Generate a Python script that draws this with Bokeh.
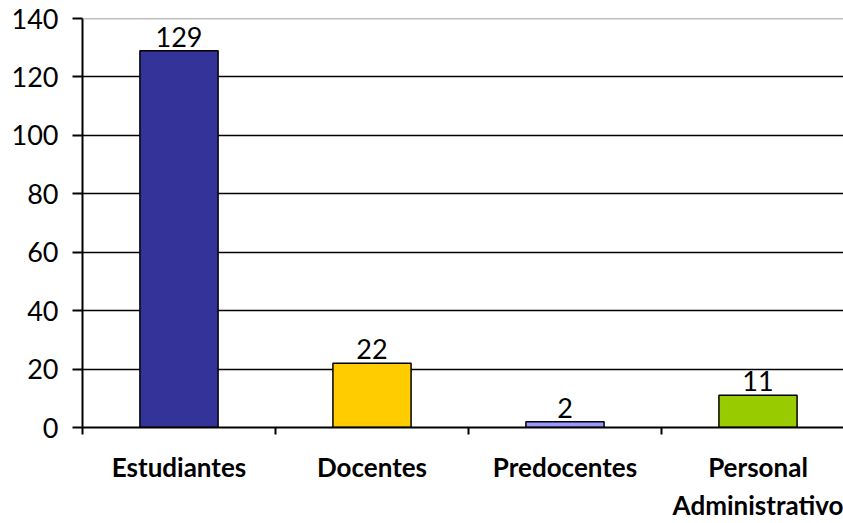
from bokeh.plotting import figure
from bokeh.models import FixedTicker, Range1d, Span, ColumnDataSource, LabelSet
from bokeh.core.properties import value
from bokeh.embed import file_html
from bokeh.resources import INLINE

categories = ["Estudiantes", "Docentes", "Predocentes", "Personal\nAdministrativo"]
values = [129, 22, 2, 11]
colors = ["#333399", "#FFCC00", "#9999FF", "#99CC00"]
y_ticks = [0, 20, 40, 60, 80, 100, 120, 140]

FONT = "Lato"

positions = [i + 0.5 for i in range(len(categories))]
src = ColumnDataSource(dict(x=positions, top=values, color=colors,
                            label=[str(v) for v in values]))

p = figure(width=843, height=523, output_backend="svg", toolbar_location=None,
           x_range=Range1d(0, 3.943), y_range=Range1d(0, 140),
           min_border_left=82, min_border_right=0, min_border_top=18,
           min_border_bottom=95)
p.outline_line_color = None
p.background_fill_color = "white"
p.border_fill_color = "white"

p.vbar(x="x", top="top", width=0.405, source=src, fill_color="color",
       line_color="black", line_width=1.5)

labels = LabelSet(x="x", y="top", text="label", source=src, text_align="center",
                  text_baseline="bottom", y_offset=4, text_font=value(FONT),
                  text_font_size="27px", text_color="black")
p.add_layout(labels)

p.xgrid.visible = False
p.ygrid.ticker = FixedTicker(ticks=[t for t in y_ticks if 0 < t < 140])
p.ygrid.grid_line_color = "black"
p.ygrid.grid_line_width = 1.5
p.add_layout(Span(location=140, dimension="width", line_color="#808080",
                  line_width=1.5))

ya = p.yaxis[0]
ya.ticker = FixedTicker(ticks=y_ticks)
ya.minor_tick_line_color = None
ya.major_tick_out = 10
ya.major_tick_in = 0
ya.major_tick_line_width = 2
ya.axis_line_width = 2
ya.major_label_standoff = 14
ya.major_label_text_font = FONT
ya.major_label_text_font_size = "27px"
ya.major_label_text_color = "black"
ya.axis_line_color = "black"
ya.major_tick_line_color = "black"

xa = p.xaxis[0]
xa.ticker = FixedTicker(ticks=positions, minor_ticks=[0, 1, 2, 3])
xa.major_label_overrides = {pos: cat for pos, cat in zip(positions, categories)}
xa.major_tick_line_color = None
xa.major_tick_out = 0
xa.major_tick_in = 0
xa.minor_tick_out = 7
xa.minor_tick_in = 0
xa.minor_tick_line_width = 2
xa.minor_tick_line_color = "black"
xa.axis_line_width = 2
xa.axis_line_color = "black"
xa.major_label_standoff = 16
xa.major_label_text_font = FONT
xa.major_label_text_font_style = "bold"
xa.major_label_text_font_size = "26px"
xa.major_label_text_color = "black"

open("out.html", "w").write(file_html(p, INLINE))
